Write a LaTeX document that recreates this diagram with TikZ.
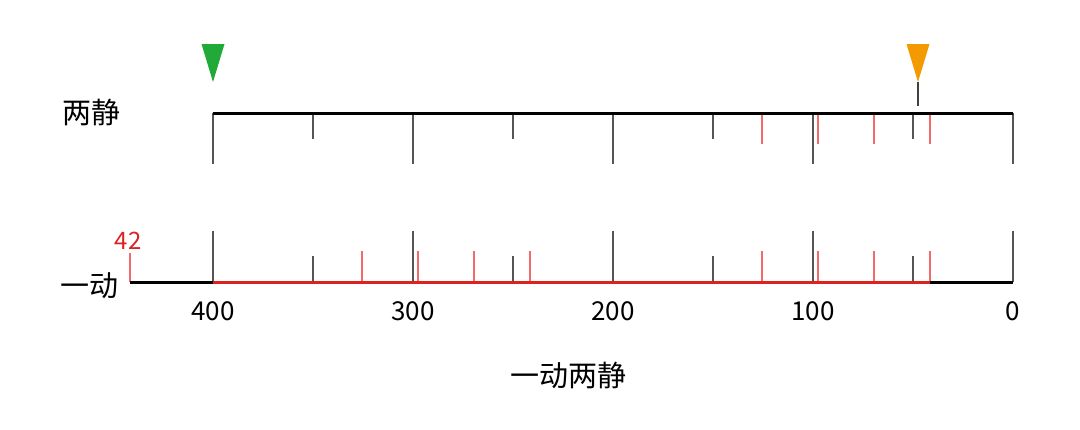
\documentclass[tikz,border=0pt]{standalone}
\usepackage{fontspec}
\setmainfont{Noto Sans CJK SC}
\definecolor{tickgray}{HTML}{555555}
\definecolor{lightred}{HTML}{F26A6A}
\definecolor{axisred}{HTML}{DD2020}
\definecolor{mgreen}{HTML}{22AA38}
\definecolor{morange}{HTML}{F39A00}
\begin{document}
\begin{tikzpicture}[x=1pt,y=-1pt,
  tickline/.style={draw=tickgray,line width=1.5pt},
  redtick/.style={draw=lightred,line width=1.5pt},
  axisline/.style={line width=3pt},
  numlabel/.style={font=\fontsize{26}{30}\selectfont,inner sep=0pt},
  rowlabel/.style={font=\fontsize{29}{34}\selectfont,inner sep=0pt}]
\useasboundingbox (0,0) rectangle (1080,429);
% ---- top axis ----
\foreach \v in {400,300,200,100,0}
  \draw[tickline] ({1013-2*\v},113) -- ({1013-2*\v},164);
\foreach \v in {350,250,150,50}
  \draw[tickline] ({1013-2*\v},113) -- ({1013-2*\v},139);
\foreach \v in {41.6,69.6,97.6,125.6}
  \draw[redtick] ({1013-2*\v},113) -- ({1013-2*\v},144);
\coordinate (t0) at (213,113);
\coordinate (t1) at (1013,113);
\draw[axisline] (t0) -- (t1);
% markers
\fill[mgreen] (201.5,44) -- (224.5,44) -- (213,82) -- cycle;
\fill[morange] (906.5,44) -- (929.5,44) -- (918,82) -- cycle;
\coordinate (om) at (918,82);
\coordinate (omb) at (918,106);
\draw[draw=black!75,line width=1.5pt] (om) -- (omb);
\node[rowlabel] (lt) at (91,112) {两静};
% ---- bottom axis ----
\foreach \v in {400,300,200,100,0}
  \draw[tickline] ({1013-2*\v},282) -- ({1013-2*\v},231);
\foreach \v in {350,250,150,50}
  \draw[tickline] ({1013-2*\v},282) -- ({1013-2*\v},256);
\foreach \v in {41.6,69.6,97.6,125.6,241.6,269.6,297.6,325.6}
  \draw[redtick] ({1013-2*\v},282) -- ({1013-2*\v},251);
\draw[redtick] (130,282) -- (130,253);
\coordinate (b0) at (130,282);
\coordinate (b1) at (213,282);
\coordinate (b2) at (929.8,282);
\coordinate (b3) at (1013,282);
\draw[axisline] (b0) -- (b1);
\draw[axisline,draw=axisred] (b1) -- (b2);
\draw[axisline] (b2) -- (b3);
\node[font=\fontsize{24}{28}\selectfont,text=axisred,inner sep=0pt] (n42) at (128,241) {42};
\node[rowlabel] (lb) at (89,286) {一动};
\foreach \v in {400,300,200,100,0}
  \node[numlabel] at ({1013-2*\v},311) {\v};
\node[rowlabel] (title) at (568,375) {一动两静};
\end{tikzpicture}
\end{document}
